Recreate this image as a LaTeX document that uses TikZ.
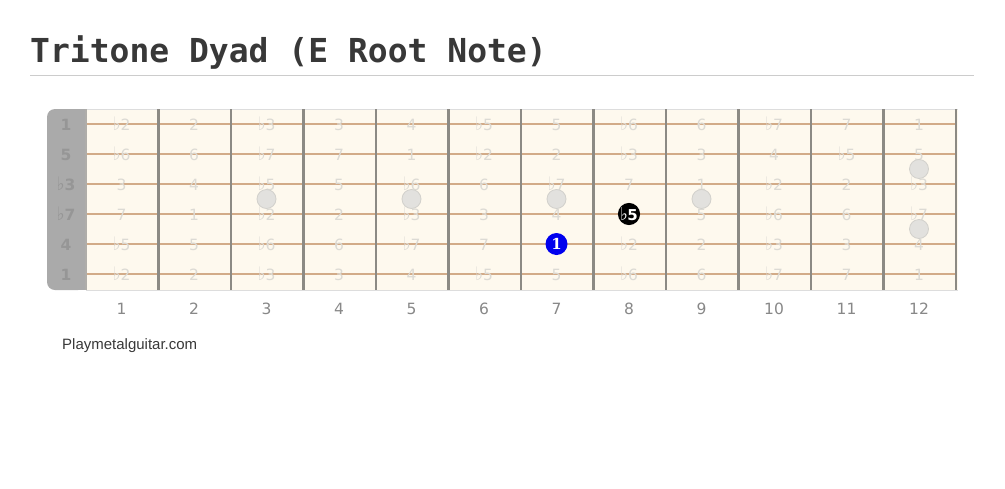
\documentclass[tikz,border=0pt]{standalone}
\usepackage{fontspec}
\setmainfont{DejaVu Sans}
\newfontfamily\titlefont{DejaVu Sans Mono}
\newfontfamily\sitefont{Liberation Sans}
\newfontfamily\dotfont{DejaVu Serif}
\newcommand{\fl}{\scalebox{1.1}[1.2]{♭}}
\definecolor{titlegray}{HTML}{383838}
\definecolor{rulegray}{HTML}{CCCCCC}
\definecolor{boardbg}{HTML}{FEF9EE}
\definecolor{boardedge}{HTML}{DDDDDD}
\definecolor{nutgray}{HTML}{AAAAAA}
\definecolor{nuttext}{HTML}{969696}
\definecolor{fretcol}{HTML}{8C8A84}
\definecolor{stringcol}{HTML}{D2AB88}
\definecolor{ivtext}{HTML}{DCDAD4}
\definecolor{fretnum}{HTML}{888888}
\definecolor{inlay}{HTML}{E2E1DE}
\definecolor{inlayedge}{HTML}{D2D1CC}
\definecolor{rootblue}{HTML}{0000EE}
\tikzset{
  ivlabel/.style={font=\fontsize{15.5}{15.5}\selectfont, text=ivtext, inner sep=0pt, anchor=base},
  openlabel/.style={font=\bfseries\fontsize{15.5}{15.5}\selectfont, text=nuttext, inner sep=0pt, anchor=base},
  fretlabel/.style={font=\fontsize{15.5}{15.5}\selectfont, text=fretnum, inner sep=0pt},
  inlaydot/.style={circle, fill=inlay, draw=inlayedge, line width=0.8pt, minimum size=19pt, inner sep=0pt},
  notedot/.style={circle, minimum size=22pt, inner sep=0pt, text=white, font=\dotfont\bfseries\fontsize{15}{15}\selectfont},
  fretline/.style={draw=fretcol, line width=2.6pt},
  stringline/.style={draw=stringcol, line width=1.8pt},
}
\begin{document}
\begin{tikzpicture}[x=1pt,y=-1pt]
\useasboundingbox[fill=white] (0,0) rectangle (1005,488);
% title
\node[anchor=base west, inner sep=0pt, text=titlegray, font=\titlefont\bfseries\fontsize{33}{33}\selectfont] (title) at (30,62) {Tritone Dyad (E Root Note)};
\draw[rulegray, line width=1pt] (30,75) -- (974,75);
% fretboard
\fill[boardbg] (86,109) rectangle (958,290);
\draw[boardedge, line width=1pt] (86,109) -- (958,109) (86,290) -- (958,290);
\fill[nutgray, rounded corners=8pt] (47,109) -- (86,109) -- (86,290) -- (47,290) -- cycle;
\fill[nutgray] (70,109) rectangle (86,290);
% strings
\foreach \s in {0,...,5} {
  \draw[stringline] (85,124+30*\s) -- (957,124+30*\s);
}
% frets
\draw[draw=fretcol!70, line width=1.5pt] (86,109) -- (86,290);
\foreach \f in {1,...,12} {
  \draw[fretline] (86+72.5*\f,109) -- (86+72.5*\f,290);
}
% open string labels
\node[openlabel] (o1) at (66,130.8) {1};
\node[openlabel] (o2) at (66,160.8) {5};
\node[openlabel] (o3) at (66,190.8) {\fl3};
\node[openlabel] (o4) at (66,220.8) {\fl7};
\node[openlabel] (o5) at (66,250.8) {4};
\node[openlabel] (o6) at (66,280.8) {1};
% interval labels
\foreach \t [count=\k] in {\fl2,2,\fl3,3,4,\fl5,5,\fl6,6,\fl7,7,1}
  \node[ivlabel] (a\k) at (86+72.5*\k-37,130.8) {\t};
\foreach \t [count=\k] in {\fl6,6,\fl7,7,1,\fl2,2,\fl3,3,4,\fl5,5}
  \node[ivlabel] (b\k) at (86+72.5*\k-37,160.8) {\t};
\foreach \t [count=\k] in {3,4,\fl5,5,\fl6,6,\fl7,7,1,\fl2,2,\fl3}
  \node[ivlabel] (c\k) at (86+72.5*\k-37,190.8) {\t};
\foreach \t [count=\k] in {7,1,\fl2,2,\fl3,3,4,\fl5,5,\fl6,6,\fl7}
  \node[ivlabel] (d\k) at (86+72.5*\k-37,220.8) {\t};
\foreach \t [count=\k] in {\fl5,5,\fl6,6,\fl7,7,1,\fl2,2,\fl3,3,4}
  \node[ivlabel] (e\k) at (86+72.5*\k-37,250.8) {\t};
\foreach \t [count=\k] in {\fl2,2,\fl3,3,4,\fl5,5,\fl6,6,\fl7,7,1}
  \node[ivlabel] (g\k) at (86+72.5*\k-37,280.8) {\t};
% inlays
\foreach \f in {3,5,7,9}
  \node[inlaydot] (in\f) at (86+72.5*\f-37,199) {};
\node[inlaydot] (in12a) at (86+72.5*12-37,169) {};
\node[inlaydot] (in12b) at (86+72.5*12-37,229) {};
% note dots
\node[notedot, fill=rootblue] (root) at (86+72.5*7-37,244) {1};
\node[notedot, fill=black] (tritone) at (86+72.5*8-37,214) {\fontspec{DejaVu Sans}\bfseries\fl\kern-0.5pt 5};
% fret numbers
\foreach \f in {1,...,12}
  \node[fretlabel] (n\f) at (86+72.5*\f-37,309) {\f};
% site
\node[anchor=base west, inner sep=0pt, text=titlegray, font=\sitefont\fontsize{15}{15}\selectfont] (site) at (62,349) {Playmetalguitar.com};
\end{tikzpicture}
\end{document}
